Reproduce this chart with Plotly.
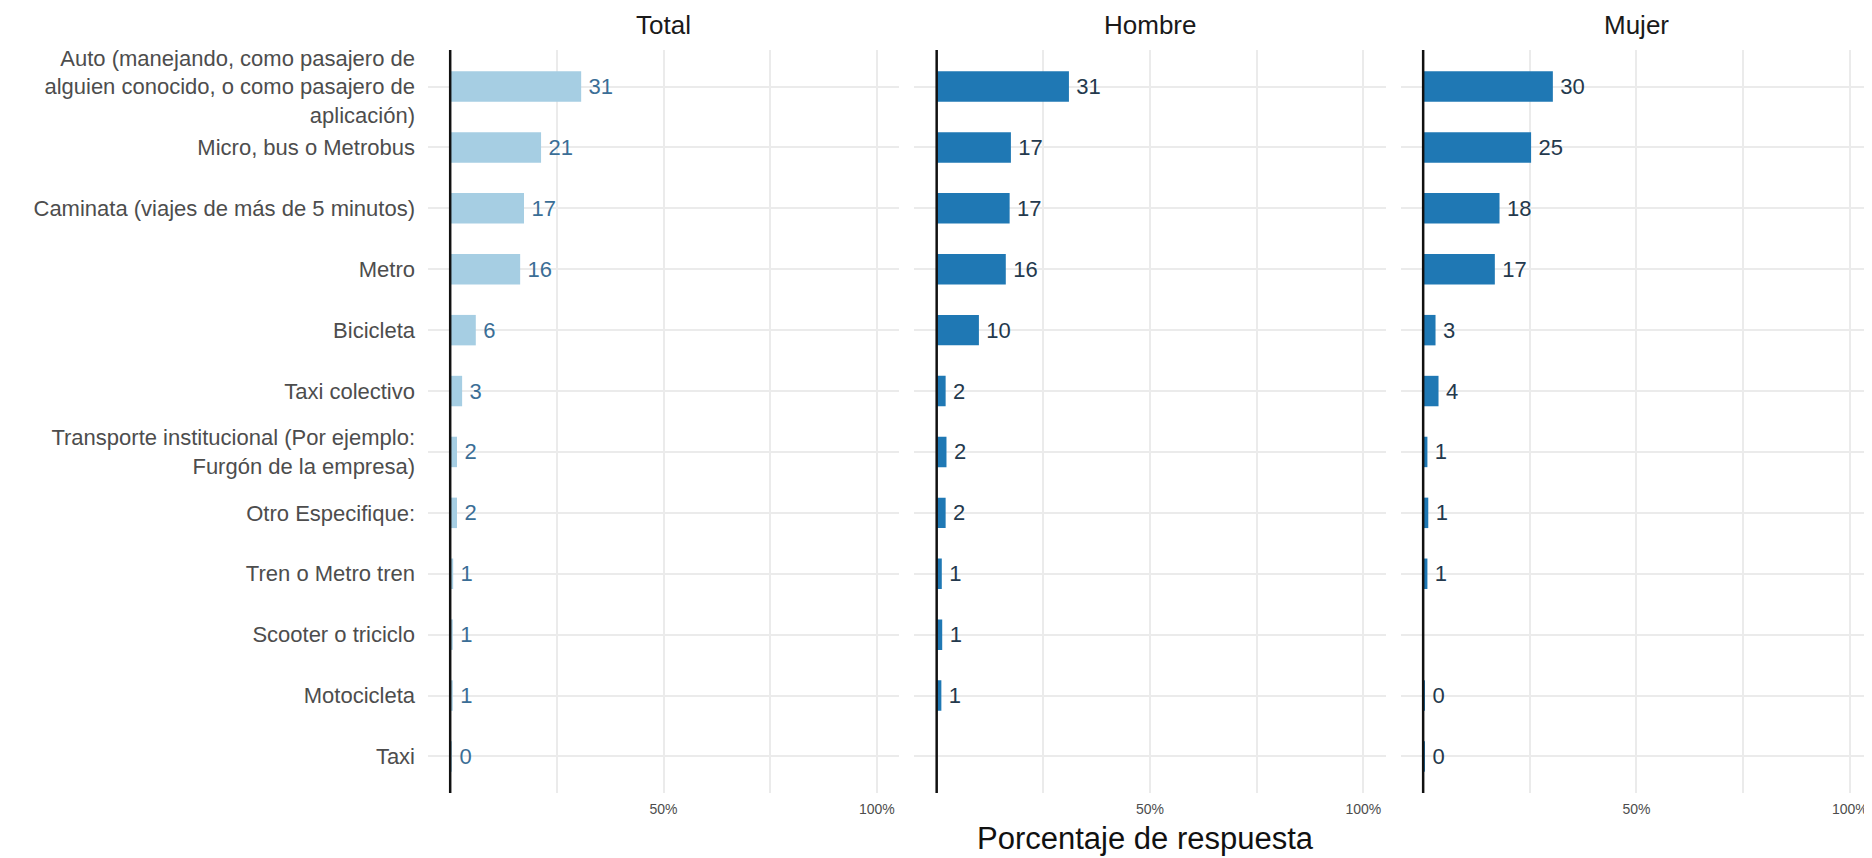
import plotly.graph_objects as go

categories = [
    "Auto (manejando, como pasajero de<br>alguien conocido, o como pasajero de<br>aplicación)",
    "Micro, bus o Metrobus",
    "Caminata (viajes de más de 5 minutos)",
    "Metro",
    "Bicicleta",
    "Taxi colectivo",
    "Transporte institucional (Por ejemplo:<br>Furgón de la empresa)",
    "Otro Especifique:",
    "Tren o Metro tren",
    "Scooter o triciclo",
    "Motocicleta",
    "Taxi",
]
panels = ["Total", "Hombre", "Mujer"]
total_vals = [30.7, 21.3, 17.3, 16.4, 6.0, 2.8, 1.6, 1.6, 0.7, 0.6, 0.6, 0.2]
hombre_vals = [31.0, 17.4, 17.1, 16.2, 9.9, 2.1, 2.3, 2.1, 1.2, 1.3, 1.1, None]
mujer_vals = [30.4, 25.3, 17.9, 16.8, 2.9, 3.6, 1.0, 1.2, 1.0, None, 0.3, 0.2]
tick_vals = [0, 25, 50, 75, 100]
tick_text = ["", "", "50%", "", "100%"]

bar_colors = ["#a6cee3", "#1f78b4", "#1f78b4"]
label_colors = ["#3b6e96", "#24394d", "#24394d"]
series = [total_vals, hombre_vals, mujer_vals]

FONT = "Liberation Sans, Arial, Helvetica, sans-serif"
# the page body adds an 8px offset; size the figure so the plot lands where the reference has it
W, H = 1864, 850
L, R, T, B = 420, 0, 42, 65
domains = [[0.0, 0.3262], [0.3369, 0.6631], [0.6738, 1.0]]

fig = go.Figure()
for i, (vals, name) in enumerate(zip(series, panels)):
    sfx = "" if i == 0 else str(i + 1)
    xs, ys = [], []
    for c, v in zip(categories, vals):
        if v is not None:
            xs.append(v)
            ys.append(c)
    fig.add_trace(go.Bar(
        x=xs, y=ys, orientation="h",
        xaxis="x" + sfx, yaxis="y" + sfx,
        marker=dict(color=bar_colors[i], line=dict(width=0)),
        width=0.5,
        texttemplate="\u2009%{x:.0f}",
        textposition="outside",
        constraintext="none",
        cliponaxis=False,
        textfont=dict(family=FONT, size=22, color=label_colors[i]),
        showlegend=False,
        hoverinfo="x+y",
    ))

layout = dict(
    width=W, height=H,
    margin=dict(l=L, r=R, t=T, b=B, pad=0, autoexpand=False),
    paper_bgcolor="white", plot_bgcolor="white",
    font=dict(family=FONT, color="#4d4d4d"),
    bargap=0.5,
    annotations=[], shapes=[],
)
for i, name in enumerate(panels):
    sfx = "" if i == 0 else str(i + 1)
    layout["xaxis" + sfx] = dict(
        domain=domains[i], anchor="y" + sfx,
        range=[-5.2, 105.2], tickvals=tick_vals, ticktext=tick_text,
        showgrid=True, gridcolor="#ebebeb", gridwidth=2,
        zeroline=False, showline=False, ticks="",
        tickfont=dict(family=FONT, size=14, color="#4d4d4d"),
        ticklabelstandoff=6, automargin=False,
        fixedrange=True,
    )
    layout["yaxis" + sfx] = dict(
        anchor="x" + sfx, type="category",
        categoryorder="array", categoryarray=categories,
        range=[11.6, -0.6],
        showgrid=True, gridcolor="#ebebeb", gridwidth=2,
        zeroline=False, showline=False, ticks="",
        showticklabels=(i == 0),
        tickfont=dict(family=FONT, size=22, color="#4d4d4d"),
        ticklabelstandoff=12, automargin=False,
        fixedrange=True,
    )
    if i > 0:
        layout["yaxis" + sfx]["matches"] = "y"
    layout["shapes"].append(dict(
        type="line", xref="x" + sfx, yref="y" + sfx + " domain",
        x0=0, x1=0, y0=0, y1=1, layer="above",
        line=dict(color="#111111", width=2.5),
    ))
    layout["annotations"].append(dict(
        text=name, xref="x" + sfx + " domain", yref="paper",
        x=0.5, y=1, xanchor="center", yanchor="middle", yshift=25,
        showarrow=False, font=dict(family=FONT, size=26, color="#1a1a1a"),
    ))

layout["annotations"].append(dict(
    text="Porcentaje de respuesta", xref="paper", yref="paper",
    x=0.5, y=0, xanchor="center", yanchor="bottom", yshift=-65, xshift=-5,
    showarrow=False, font=dict(family=FONT, size=31, color="#111111"),
))

fig.update_layout(**layout)
fig.write_html("out.html")
